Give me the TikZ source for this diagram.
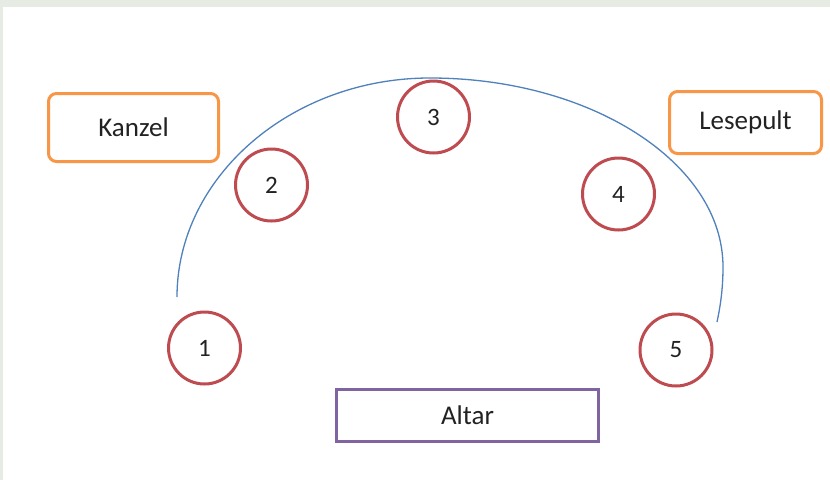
\documentclass[tikz,border=0pt]{standalone}
\usepackage{fontspec}
\setmainfont{Carlito}
\definecolor{frame}{HTML}{E6ECE4}
\definecolor{seatred}{HTML}{BE4B50}
\definecolor{boxorange}{HTML}{F79646}
\definecolor{altarpurple}{HTML}{8064A2}
\definecolor{arcblue}{HTML}{4F81BD}
\definecolor{txt}{HTML}{222222}
\begin{document}
\begin{tikzpicture}[x=1pt,y=-1pt,
  seat/.style={circle,draw=seatred,line width=3pt,minimum size=72pt,inner sep=0pt,text=txt,font=\fontsize{25}{28}\selectfont},
  furn/.style={draw=boxorange,line width=3pt,rounded corners=8pt,inner sep=0pt,text=txt,font=\fontsize{27}{30}\selectfont},
  altarbox/.style={draw=altarpurple,line width=3pt,inner sep=0pt,text=txt,font=\fontsize{27}{30}\selectfont},
  arcline/.style={draw=arcblue,line width=1.3pt}]
\useasboundingbox (0,0) rectangle (830,480);
\fill[white] (0,0) rectangle (830,480);
\fill[frame] (0,0) rectangle (830,7);
\fill[frame] (0,0) rectangle (3,480);
% arc
\coordinate (arcL) at (177,297);
\coordinate (arcT) at (430,78);
\coordinate (arcR) at (723,267);
\coordinate (arcE) at (717,322);
\draw[arcline] (arcL) .. controls (177,177) and (291,78) .. (arcT)
  .. controls (591,78) and (723,163) .. (arcR)
  .. controls (723,290) and (720,308) .. (arcE);
% boxes
\node[furn,minimum width=170pt,minimum height=68pt] (kanzel) at (133.5,127.5) {Kanzel};
\node[furn,minimum width=152pt,minimum height=62pt] (lesepult) at (745.5,122.5) {Lesepult};
\node[altarbox,minimum width=262pt,minimum height=52pt] (altar) at (467.5,415.5) {Altar};
% seats
\node[seat] (s1) at (204.5,348) {1};
\node[seat] (s2) at (271.5,185) {2};
\node[seat] (s3) at (433.5,117) {3};
\node[seat] (s4) at (618.5,194) {4};
\node[seat] (s5) at (676,350) {5};
\end{tikzpicture}
\end{document}
